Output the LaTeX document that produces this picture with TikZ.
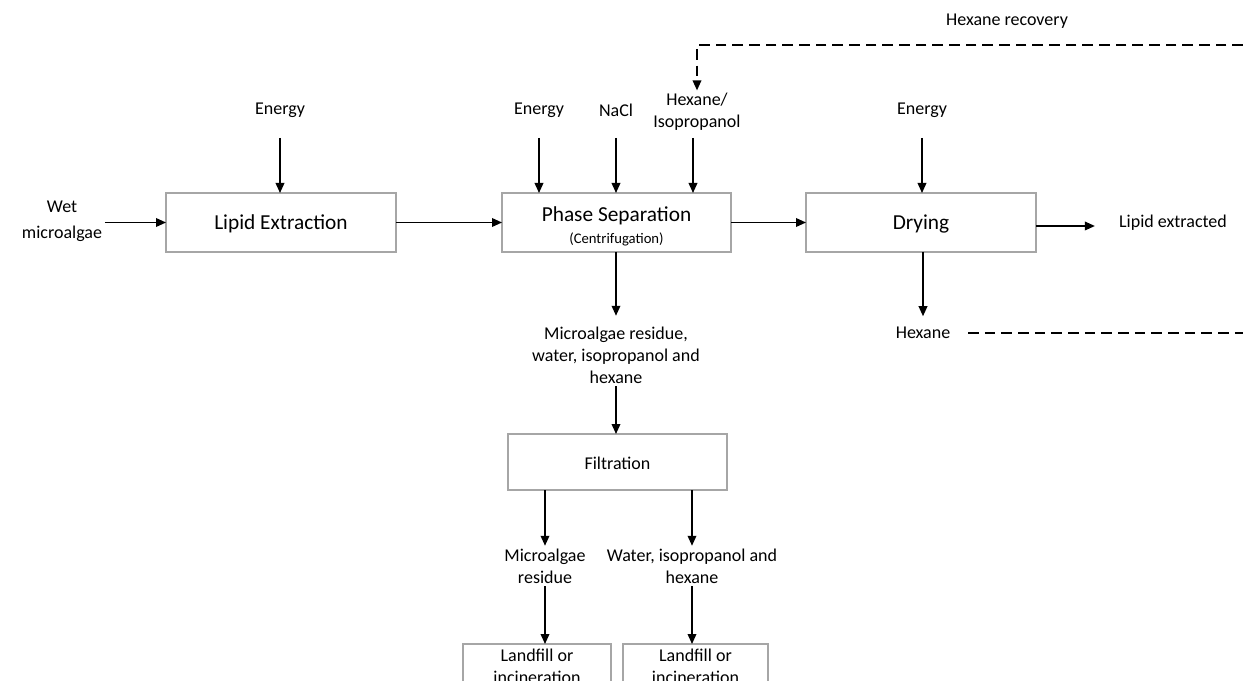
\documentclass[tikz,border=0pt]{standalone}
\usepackage{fontspec}
\setmainfont{Carlito}
\usetikzlibrary{arrows.meta,calc}
\definecolor{boxgray}{HTML}{A6A6A6}
\begin{document}
\begin{tikzpicture}[x=0.75pt,y=-0.75pt,
  lbl/.style={font=\fontsize{13.5}{16.5}\selectfont, align=center, inner sep=2pt},
  procbox/.style={draw=boxgray, line width=1pt, align=center, inner sep=0pt, outer sep=0pt, font=\fontsize{16}{19}\selectfont},
  smallbox/.style={draw=boxgray, line width=1pt, align=center, inner sep=0pt, outer sep=0pt, font=\fontsize{13.5}{16.5}\selectfont},
  arr/.style={draw=black, line width=1.1pt, -{Triangle[length=7.5pt,width=6.5pt]}},
  dasharr/.style={arr, dash pattern=on 8pt off 4.5pt},
  dashln/.style={draw=black, line width=1.1pt, dash pattern=on 8pt off 4.5pt}]
\clip (0,0) rectangle (1243,681);
\fill[white] (0,0) rectangle (1243,681);

% process boxes
\node[procbox, minimum width=172.5pt, minimum height=44.25pt] (lipid) at (281,222.5) {};
\node[procbox, minimum width=171.75pt, minimum height=44.25pt] (phase) at (616.5,222.5) {};
\node[procbox, minimum width=172.5pt, minimum height=44.25pt] (dry) at (921,222.5) {};
\node[smallbox, minimum width=164.25pt, minimum height=42pt] (filt) at (617.5,462) {};
\node[smallbox, minimum width=111pt, minimum height=42pt] (lf1) at (537,672) {};
\node[smallbox, minimum width=108.75pt, minimum height=42pt] (lf2) at (695.5,672) {};

% box texts
\node[lbl, font=\fontsize{16}{19}\selectfont] (lipidt) at (281,224) {Lipid Extraction};
\node[lbl, font=\fontsize{16}{16.5}\selectfont] (phaset) at (616.5,226) {Phase Separation\\{\fontsize{11}{13}\selectfont (Centrifugation)}};
\node[lbl, font=\fontsize{16}{19}\selectfont] (dryt) at (921,224) {Drying};
\node[lbl] (filtt) at (617.5,463) {Filtration};
\node[lbl] (lf1t) at (537,666) {Landfill or\\incineration};
\node[lbl] (lf2t) at (695.5,666) {Landfill or\\incineration};

% labels
\node[lbl, font=\fontsize{13.5}{19.5}\selectfont] (wet) at (62,221) {Wet\\microalgae};
\node[lbl] (e1) at (280,110) {Energy};
\node[lbl] (e2) at (539,110) {Energy};
\node[lbl] (nacl) at (616,110) {NaCl};
\node[lbl] (hexiso) at (697,112) {Hexane/\\Isopropanol};
\node[lbl] (e3) at (922,110) {Energy};
\node[lbl] (lipex) at (1173,223) {Lipid extracted};
\node[lbl] (hex) at (923,333) {Hexane};
\node[lbl] (hrec) at (1007,21) {Hexane recovery};
\node[lbl] (mres) at (616,355) {Microalgae residue,\\water, isopropanol and\\hexane};
\node[lbl] (mr2) at (545,566) {Microalgae\\residue};
\node[lbl] (wih) at (692,566) {Water, isopropanol and\\hexane};

\coordinate (recR) at (1243,45);
\coordinate (hexR) at (1243,333);
\coordinate (hxs) at (693,138);
\coordinate (lxa) at (1036,226);

% connectors
\draw[arr] (wet.east |- lipid.west) -- (lipid.west);
\draw[arr] (lipid.east) -- (phase.west);
\draw[arr] (phase.east) -- (dry.west);
\draw[arr, shorten >=16pt] (lxa) -- (lipex.west |- lxa);
\draw[arr] ($(e1)+(0,28)$) -- (e1 |- lipid.north);
\draw[arr] ($(e2)+(0,28)$) -- (e2 |- phase.north);
\draw[arr] ($(nacl)+(0,28)$) -- (nacl |- phase.north);
\draw[arr] (hxs) -- (hxs |- phase.north);
\draw[arr] ($(e3)+(0,28)$) -- (e3 |- dry.north);
\draw[arr, shorten >=6pt] (hex |- dry.south) -- (hex.north);
\draw[arr, shorten >=6pt] (mres |- phase.south) -- (mres.north);
\draw[arr] (mres.south) -- (mres.south |- filt.north);
\draw[arr] (mr2 |- filt.south) -- (mr2.north);
\draw[arr] (wih.north |- filt.south) -- (wih.north);
\draw[arr] (mr2.south) -- (mr2 |- lf1.north);
\draw[arr] (wih.south) -- (wih.south |- lf2.north);

% hexane recovery loop
\draw[dasharr] (recR) -| (hexiso.north);
\draw[dashln] ($(hex.east)+(15,0)$) -- (hexR);
\end{tikzpicture}
\end{document}
